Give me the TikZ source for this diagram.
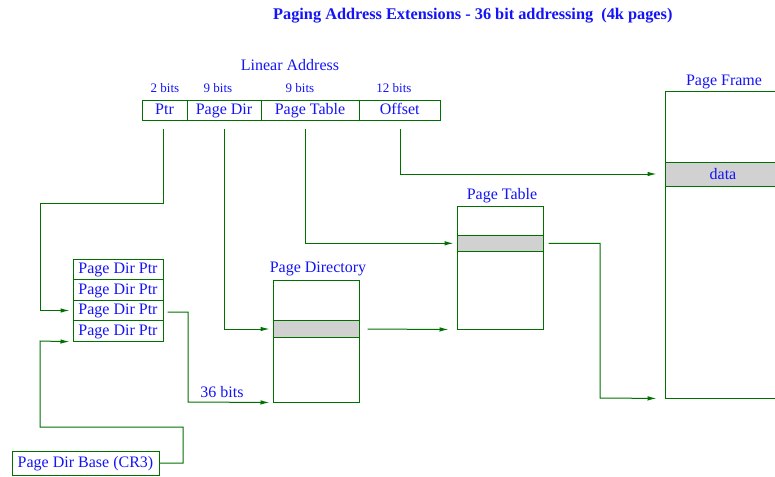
\documentclass[tikz,border=0pt]{standalone}
\usepackage{fontspec}
\setmainfont{Liberation Serif}
\usetikzlibrary{arrows.meta}
\definecolor{lgreen}{RGB}{0,112,0}
\definecolor{tblue}{RGB}{20,20,245}
\definecolor{selgray}{RGB}{209,209,209}
\tikzset{
  fld/.style={draw=lgreen, line width=1pt, rectangle, inner sep=0pt, text=tblue,
    font=\fontsize{16}{18}\selectfont, minimum height=20.5pt, text height=11pt, text depth=3pt},
  tbl/.style={draw=lgreen, line width=1pt, rectangle, inner sep=0pt},
  sel/.style={draw=lgreen, line width=1pt, rectangle, inner sep=0pt, fill=selgray},
  lbl/.style={text=tblue, font=\fontsize{16}{18}\selectfont, inner sep=0pt},
  small/.style={text=tblue, font=\fontsize{13}{15}\selectfont, inner sep=0pt},
  conn/.style={draw=lgreen, line width=1pt, -{Latex[length=9pt,width=4.5pt]}},
}
\begin{document}
\begin{tikzpicture}[x=1pt,y=-1pt]
\useasboundingbox (0,0) rectangle (775,476);
\clip (0,0) rectangle (775,476);

% title
\node[anchor=west, text=tblue, font=\fontsize{16.3}{18}\selectfont\bfseries, inner sep=0pt] (title) at (273,16)
  {Paging Address Extensions - 36 bit addressing\ \ (4k pages)};

% linear address
\node[lbl] (la) at (290,65) {Linear Address};
\node[small] (b1) at (165,88) {2 bits};
\node[small] (b2) at (218,88) {9 bits};
\node[small] (b3) at (300,88) {9 bits};
\node[small] (b4) at (394,88) {12 bits};
\node[fld, minimum width=45pt] (ptr) at (164.5,110.5) {Ptr};
\node[fld, minimum width=74pt] (pdir) at (224,110.5) {Page Dir};
\node[fld, minimum width=98pt] (ptab) at (310,110.5) {Page Table};
\node[fld, minimum width=81pt] (off) at (399.75,110.5) {Offset};

% page dir ptrs
\node[fld, minimum width=90pt] (pdp1) at (118,269.5) {Page Dir Ptr};
\node[fld, minimum width=90pt] (pdp2) at (118,290) {Page Dir Ptr};
\node[fld, minimum width=90pt] (pdp3) at (118,310.5) {Page Dir Ptr};
\node[fld, minimum width=90pt] (pdp4) at (118,331) {Page Dir Ptr};

% CR3
\node[fld, minimum width=147pt, minimum height=24pt] (cr3) at (85.5,463) {Page Dir Base (CR3)};

% page directory
\node[tbl, minimum width=86pt, minimum height=122pt] (pd) at (316,341) {};
\node[sel, minimum width=86pt, minimum height=16.5pt] (pdsel) at (316,329) {};
\node[lbl] (pdl) at (318,269) {Page Directory};

% page table
\node[tbl, minimum width=86pt, minimum height=123pt] (pt) at (500,267.5) {};
\node[sel, minimum width=86pt, minimum height=16pt] (ptsel) at (500,243.3) {};
\node[lbl] (ptl) at (502,196) {Page Table};

% page frame
\node[tbl, minimum width=135pt, minimum height=306pt] (pf) at (732.5,245) {};
\node[sel, minimum width=135pt, minimum height=24pt] (pfsel) at (732.5,174) {};
\node[lbl] (data) at (723,174) {data};
\node[lbl] (pfl) at (724,82) {Page Frame};

% connectors
\draw[conn, shorten <=8pt, shorten >=3pt] ([xshift=-1.5pt]ptr.south) -- (163,203) -- (40,203) -- (40,310.5) -- (pdp3.west);
\draw[conn, shorten >=3pt] (cr3.east) -- (183,463) -- (183,427) -- (40,427) -- (40,341) -- (pdp4.south west);
\draw[conn, shorten >=3pt] ([xshift=4pt,yshift=-1.5pt]pdp3.east) -- (188,312) -- (188,402) -- (pd.south west);
\node[lbl] (b36) at (222,392) {36 bits};
\draw[conn, shorten <=8pt, shorten >=3pt] (pdir.south) -- (224,329) -- (pdsel.west);
\draw[conn, shorten <=8pt, shorten >=8pt] (pdsel.east) -- (pt.south west);
\draw[conn, shorten <=8pt, shorten >=3pt] ([xshift=-4.3pt]ptab.south) -- (305.7,243.3) -- (ptsel.west);
\draw[conn, shorten <=5pt, shorten >=8pt] (ptsel.east) -- (600,243.3) -- (600,398) -- (pf.south west);
\draw[conn, shorten <=8pt, shorten >=8pt] ([xshift=0.25pt]off.south) -- (400,174) -- (pfsel.west);
\end{tikzpicture}
\end{document}
